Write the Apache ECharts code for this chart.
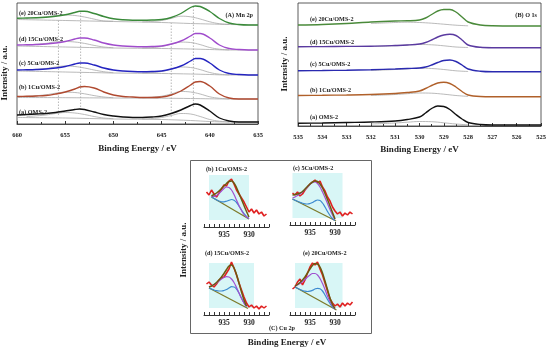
<!DOCTYPE html>
<html><head><meta charset="utf-8">
<script src="https://cdn.jsdelivr.net/npm/echarts@6/dist/echarts.min.js"></script>
<style>html,body{margin:0;padding:0;background:#fff}#c{width:550px;height:352px}</style>
</head><body><div id="c"></div><script>
// ---------- labels ----------
const sampleLabels = ['(a) OMS-2','(b) 1Cu/OMS-2','(c) 5Cu/OMS-2','(d) 15Cu/OMS-2','(e) 20Cu/OMS-2'];
const panelTags = ['(A) Mn 2p','(B) O 1s','(C) Cu 2p'];
const axisTitleX = 'Binding Energy / eV';
const axisTitleY = 'Intensity / a.u.';

// ---------- (A) Mn 2p ----------
const mnEnergy = [660,659,658,657,656,655,654,653.5,653,652,651,650,649,648,647,646,645,644,643,642,641.5,641,640,639,638,637,636,635];
const mnOMS2 = [9,9.5,10,10.5,11.5,13,14.5,15,14.5,12,9.5,8,7,6.5,6.5,7,8,10.5,14,18.5,20,19,13,6,3,2,2,2];
const mn1Cu  = [27.5,27.7,28,28.5,30,32,35,37,37.5,36,32,29,27.5,27,26.5,26.5,27,29,33,39,42,42.5,38,30,26,25,25,25];
const mn5Cu  = [54,54.2,54.5,55,56,57.5,60,61,61,59,56,54,53,52.5,52.3,52.5,53,55,58,63,65.5,65.5,61,54,50.5,49.5,49,49];
const mn15Cu = [79,79.2,79.5,80,81,82.5,85,86,86,84,81,79,78,77.5,77.3,77.5,78,80,83,88,90.5,90.5,86,79,75.5,74.5,74,74];
const mn20Cu = [105.7,106,106.3,106.8,107.7,109.2,111.5,112.7,112.7,110.5,107.5,105.2,104.2,103.8,103.8,104,104.5,106.5,110.5,116.5,118,117.5,112.5,105.5,101,99.5,99,99];
const mnSpectra = [mnOMS2, mn1Cu, mn5Cu, mn15Cu, mn20Cu];

const mnBaseE = [660,655,650,645,642,640,638,635];
const mnBase = [
  [6.5,6,5,4.5,3.5,2.5,2,2],
  [26.5,26.3,26,25.8,25.5,25.2,25,25],
  [53,52,51,50.5,50,49.5,49,49],
  [78,77,76,75.5,75,74.5,74,74],
  [104.5,103.5,102.5,101.5,100.5,100,99.5,99]
];
const mnComp1E = [659,657,656,655,654,653,652,651,650];
const mnComp1 = [
  [7.5,9,10.5,11.5,11,9.5,7.5,6,5.3],
  [27.5,29.2,30.8,31.8,31.5,30.2,28.4,27,26.3],
  [53.9,55.5,57,58,57.5,56,54,52.3,51.3],
  [79,80.6,82.2,82.5,82,80.6,78.6,77,76.3],
  [105.6,107.1,108.5,109,108.5,107,104.9,103.1,102.8]
];
const mnComp2E = [647,646,645,644,643,642,641,640,639,638];
const mnComp2 = [
  [5,5.5,6.5,8.5,10.5,10,7.5,4.5,2.8,2.2],
  [26.2,26.8,27.8,30,32.5,32,30,27.2,25.7,25.2],
  [51,51.5,52.5,54.8,57,56.5,54.4,51.5,49.8,49.2],
  [75.9,76.4,77.5,79.7,81.9,81.5,79.4,76.5,74.8,74.2],
  [102.1,102.6,103.5,105.6,107.8,107.2,105,102.2,100.3,99.7]
];
const mnRefE = [655.7,653.4,644.0,641.7];
const mnRefLow = [9,14,7,17];
const mnRefHigh = [104,112,101,117];

// ---------- (B) O 1s ----------
const oEnergy = [535,534,533,532,531,530.5,530,529.75,529.5,529.25,529,528.75,528.5,528.25,528,527.5,527,526,525];
const oOMS2 = [2.7,3,3.5,4,5,6.5,9,13,17.5,20,19.5,16.5,11.5,7,3.5,1.5,1,1,1];
const o1Cu  = [30.5,30.7,31,31.5,32.5,33.5,35,37.5,40.5,43,43.7,42.5,39,34.5,31,29.5,29.3,29.3,29.3];
const o5Cu  = [55.3,55.5,55.8,56.3,57,57.5,58,59,61,63.5,65.5,66,64.5,61,57,54.8,54.3,54.3,54.3];
const o15Cu = [79.3,79.4,79.6,79.8,80.5,81,82,83.5,86,89,91,91.7,90.5,86,81,78.7,78.3,78.3,78.3];
const o20Cu = [101,101.5,102.5,104,105,105.2,106,108,111.5,115,116.5,116.5,114,109,104,101,100.2,100,100];
const oSpectra = [oOMS2, o1Cu, o5Cu, o15Cu, o20Cu];
const oShoulderE = [532,531,530.5,530,529.5,529,528.5,528];
const oShoulder = [
  [2,3,3.8,4.5,4.3,3.2,2,1.2],
  [30.5,31.5,32.3,33,32.8,31.8,30.5,29.6],
  [55.5,56.5,57.2,57.8,57.5,56.5,55.2,54.5],
  [79.5,80.2,81,81.5,81.2,80.2,79,78.5],
  [102.5,103.5,103.8,103.5,102.8,101.8,100.8,100.2]
];

// ---------- (C) Cu 2p ----------
const cuEnergy = [938.5,938,937.5,937,936.5,936,935.5,935,934.5,934,933.5,933,932.5,932,931.5,931,930.5,930,929.5,929,928.5,928,927.5,927,926.5];
const cuData1Cu  = [35,32,37,33,30,34,38,42,41,46,48,43,37,33,29,25,20,15,18,14,17,13,15,11,13];
const cuData5Cu  = [32,30,33,29,31,35,38,41,43,45,42,44,38,34,28,24,18,14,11,13,9,12,10,13,11];
const cuData15Cu = [31,33,30,28,31,35,37,38,42,46,53,47,40,32,25,18,12,8,10,7,9,6,9,7,9];
const cuData20Cu = [26,28,33,36,30,35,42,48,52,50,53,46,40,32,24,16,12,9,11,8,12,9,12,10,13];
const cuData = [cuData1Cu, cuData5Cu, cuData15Cu, cuData20Cu];

const cuFitE = [
  [937.5,937,936.5,936,935.5,935,934.5,934,933.5,933,932.5,932,931.5,931,930.5,930],
  [938.5,938,937.5,937,936.5,936,935.5,935,934.5,934,933.5,933,932.5,932,931.5,931,930.5,930],
  [938,937.5,937,936.5,936,935.5,935,934.5,934,933.5,933,932.5,932,931.5,931,930.5],
  [938,937.5,937,936.5,936,935.5,935,934.5,934,933.5,933,932.5,932,931.5,931,930.5,930]
];
const cuEnvelope = [
  [31,32.5,34,36,38.5,41,43.5,45.5,46,44,39.5,33.5,27.5,21.5,15.5,10],
  [30,30.5,31,32,33.5,36,38.5,41,43,44,43.5,41,37,31.5,25.5,19,12.5,6],
  [28,29,30.5,32.5,35,38,41.5,45.5,49,50,47,40.5,32,23,15,9],
  [29,30.5,32.5,35,38,42,46,49.5,51.5,51,48,42,34,25.5,17,10.5,6.5]
];
const cuPeakHigh = [
  [30.5,30.5,31.5,33.5,36,38.5,40,39.5,37,32.5,27,21.5,16.5,12.5,10,8.5],
  [27,28,29.5,31,33,35.5,38,40.5,42.5,43,41.5,38,33,27.5,21.5,15.5,10,5.5],
  [28,29,30.5,32,34,36,37.5,38.3,38,36,32.5,27.5,22,16.5,12,8.5],
  [29,30,31.5,33.5,35.5,38,40,41.5,41.5,40,36.5,31.5,25.5,19,13.5,9,6]
];
const cuPeakLow = [
  [30,28.5,27.2,26,25.2,25.2,25.8,26.7,27.5,26.8,24.5,20.9,17,13.4,10.6,8.4],
  [26,24.8,23.7,22.7,21.8,21.2,21,21.5,22.5,24,25,24.5,22,18,13.5,9.5,6.5,4.6],
  [27,26,25,24.3,24,24,24.5,25.5,27,28.3,28,26,22,17,12,8.5],
  [28,26.7,25.5,24.5,23.8,23.5,23.8,24.7,26,26.7,26.2,24,20,15.5,11.5,8,6]
];
const cuBaseE = [[937.5,930],[938.5,929.8],[938,930.2],[938,929.7]];
const cuBaseV = [[30,8],[26,4],[27,6.5],[28,5]];
const cuShadeE = [[938,930],[938.5,928.5],[938,929],[938,928.5]];
const cuShadeV = [7,52];
const cuTickLabels = [935, 930];

// ---------- build ----------
const FONT = "'Liberation Serif','Times New Roman',serif";
const pairs = (xs, ys) => xs.map((x, i) => [x, ys[i]]);
const mnColors = ['#111111','#b04a30','#2424c0','#a04ccc','#3a8a3a'];
const oColors  = ['#111111','#b0602a','#2a2ab0','#5a3aa0','#4a8a3a'];
const gray = '#a8a8a8';
const series = [];

function line(xi, data, color, width, smooth, extra) {
  return Object.assign({type:'line', xAxisIndex:xi, yAxisIndex:xi, data, symbol:'none', silent:true,
    smooth: smooth, lineStyle:{color, width}}, extra || {});
}

mnRefE.forEach((e, i) => {
  series.push(line(0, [[e, mnRefLow[i]], [e, mnRefHigh[i]]], '#888', 0.6, false, {lineStyle:{color:'#888', width:0.6, type:[1.5,1.5]}}));
});
for (let i = 0; i < 5; i++) {
  series.push(line(0, pairs(mnBaseE, mnBase[i]), gray, 0.8, 0.3));
  series.push(line(0, pairs(mnComp1E, mnComp1[i]), gray, 0.8, 0.4));
  series.push(line(0, pairs(mnComp2E, mnComp2[i]), gray, 0.8, 0.4));
  series.push(line(0, pairs(mnEnergy, mnSpectra[i]), mnColors[i], 1.4, 0.35));
}
for (let i = 0; i < 5; i++) {
  series.push(line(1, pairs(oShoulderE, oShoulder[i]), gray, 0.8, 0.4));
  series.push(line(1, pairs(oEnergy, oSpectra[i]), oColors[i], 1.4, 0.35));
}
for (let k = 0; k < 4; k++) {
  const xi = 2 + k;
  series.push(line(xi, pairs(cuEnergy, cuData[k]), '#e02020', 1.6, false, {
    markArea:{silent:true, itemStyle:{color:'rgba(190,240,240,0.6)'},
      data:[[{xAxis:cuShadeE[k][0], yAxis:cuShadeV[0]},{xAxis:cuShadeE[k][1], yAxis:cuShadeV[1]}]]}
  }));
  series.push(line(xi, pairs(cuBaseE[k], cuBaseV[k]), '#7d7a2a', 1.3, false));
  series.push(line(xi, pairs(cuFitE[k], cuPeakLow[k]), '#3c8ad0', 1.2, 0.4));
  series.push(line(xi, pairs(cuFitE[k], cuPeakHigh[k]), '#a050d0', 1.2, 0.4));
  series.push(line(xi, pairs(cuFitE[k], cuEnvelope[k]), '#6b5a10', 1.5, 0.4));
}

const grids = [
  {left:17, top:3, width:241, height:121, show:true, borderColor:'#333', borderWidth:0.8},
  {left:298, top:3, width:243, height:123, show:true, borderColor:'#333', borderWidth:0.8},
  {left:204, top:172, width:65, height:55},
  {left:290, top:170, width:65, height:55},
  {left:204, top:260, width:65, height:55},
  {left:290, top:260, width:65, height:55}
];
const labStyle = {fontFamily:FONT, fontWeight:'bold', color:'#222'};
const xAxes = [
  {gridIndex:0, type:'value', min:635, max:660, interval:5, inverse:true,
   axisLine:{lineStyle:{color:'#333', width:0.8}}, axisTick:{inside:true, length:3, lineStyle:{color:'#333'}},
   minorTick:{show:true, splitNumber:2, length:2, lineStyle:{color:'#333'}},
   axisLabel:Object.assign({fontSize:6.5, margin:8}, labStyle), splitLine:{show:false},
   name:axisTitleX, nameLocation:'middle', nameGap:20, nameTextStyle:Object.assign({fontSize:9}, labStyle)},
  {gridIndex:1, type:'value', min:525, max:535, interval:1, inverse:true,
   axisLine:{lineStyle:{color:'#333', width:0.8}}, axisTick:{inside:true, length:3, lineStyle:{color:'#333'}},
   minorTick:{show:true, splitNumber:2, length:2, lineStyle:{color:'#333'}},
   axisLabel:Object.assign({fontSize:6.5, margin:8}, labStyle), splitLine:{show:false},
   name:axisTitleX, nameLocation:'middle', nameGap:19, nameTextStyle:Object.assign({fontSize:9}, labStyle)}
];
for (let k = 0; k < 4; k++) {
  xAxes.push({gridIndex:2+k, type:'value', min:926, max:939, interval:1, inverse:true,
    axisLine:{lineStyle:{color:'#333', width:1}}, axisTick:{inside:true, length:3, lineStyle:{color:'#333'}},
    axisLabel:Object.assign({fontSize:7.5, margin:4, formatter:v => cuTickLabels.includes(v) ? String(v) : ''}, labStyle),
    splitLine:{show:false}});
}
const yAxes = [
  {gridIndex:0, type:'value', min:0, max:121, show:false},
  {gridIndex:1, type:'value', min:0, max:123, show:false}
];
for (let k = 0; k < 4; k++) yAxes.push({gridIndex:2+k, type:'value', min:0, max:55, show:false});

function txt(x, y, s, size, align, rot) {
  return {type:'text', x, y, rotation: rot || 0, silent:true,
    style:{text:s, font:'bold ' + size + 'px ' + FONT, fill:'#222', textAlign:align || 'left', textVerticalAlign:'middle'}};
}
const mnLabelY = [112,87,63,39,13];
const oLabelY = [117,90,64,42,19];
const graphics = [];
sampleLabels.forEach((s, i) => {
  graphics.push(txt(19, mnLabelY[i], s, 6.2));
  graphics.push(txt(310, oLabelY[i], s, 6.2));
});
graphics.push(txt(253, 15, panelTags[0], 6.2, 'right'));
graphics.push(txt(537, 15, panelTags[1], 6.2, 'right'));
graphics.push(txt(5, 73, axisTitleY, 9, 'center', Math.PI/2));
graphics.push(txt(285, 64, axisTitleY, 9, 'center', Math.PI/2));
graphics.push(txt(184, 250, axisTitleY, 9, 'center', Math.PI/2));
graphics.push({type:'rect', shape:{x:190.5, y:160.5, width:181, height:173}, silent:true, style:{fill:'none', stroke:'#666', lineWidth:1}});
graphics.push(txt(287, 343, axisTitleX, 9, 'center'));
graphics.push(txt(282, 328, panelTags[2], 6.2, 'center'));
const cuTitlePos = [[206,169],[293,168],[205,253],[303,253]];
sampleLabels.slice(1).forEach((s, k) => graphics.push(txt(cuTitlePos[k][0], cuTitlePos[k][1], s, 6.2)));

const chart = echarts.init(document.getElementById('c'), null, {renderer:'canvas'});
chart.setOption({
  animation:false, backgroundColor:'#fff',
  grid:grids, xAxis:xAxes, yAxis:yAxes, series, graphic:graphics
});
</script></body></html>
